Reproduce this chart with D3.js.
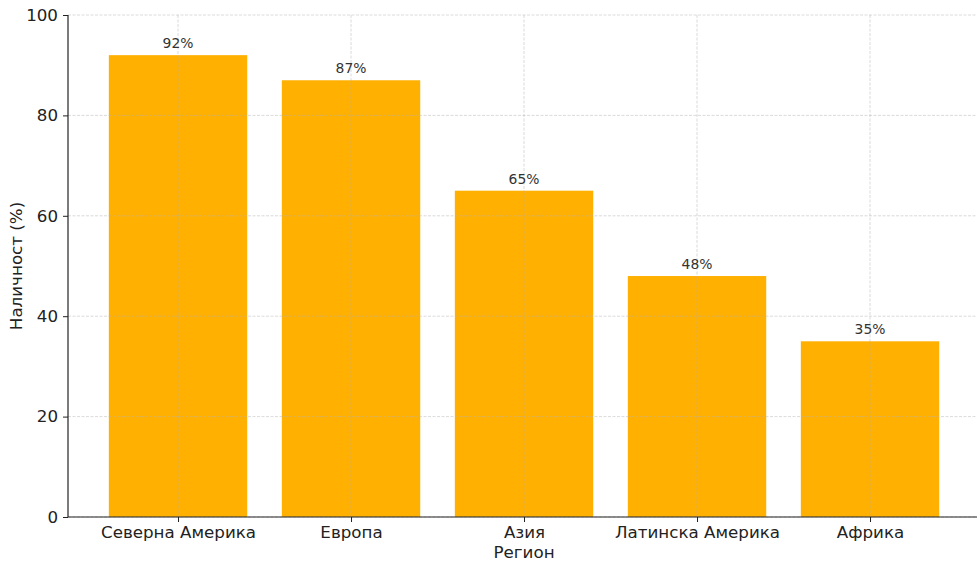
<!DOCTYPE html>
<html><head><meta charset="utf-8">
<script src="https://cdn.jsdelivr.net/npm/d3@7"></script>
<style>
html,body{margin:0;padding:0;background:#fff;}
svg{display:block;font-family:"DejaVu Sans",sans-serif;}
</style></head>
<body>
<svg id="chart" width="977" height="561"></svg>
<script>
const categories = ["Северна Америка", "Европа", "Азия", "Латинска Америка", "Африка"];
const values = [92, 87, 65, 48, 35];
const yTicks = [0, 20, 40, 60, 80, 100];
const xLabel = "Регион";
const yLabel = "Наличност (%)";

(function () {
const svg = d3.select("#chart");
const mLeft = 68, mBottom = 517, mTop = 15;
const step = 173;
const x = d3.scaleLinear().domain([-0.636, 4.636]).range([mLeft, mLeft + 5.272 * step]);
const y = d3.scaleLinear().domain([0, 100]).range([mBottom, mTop]);
const barW = 0.8;

// bars
svg.append("g").selectAll("rect").data(values).join("rect")
  .attr("x", (d, i) => x(i - barW / 2))
  .attr("width", (d, i) => x(i + barW / 2) - x(i - barW / 2))
  .attr("y", d => y(d))
  .attr("height", d => y(0) - y(d))
  .attr("fill", "#FFB000");

// grid (drawn on top)
const grid = svg.append("g").attr("stroke", "#b0b0b0").attr("stroke-opacity", 0.6)
  .attr("stroke-width", 0.8).attr("stroke-dasharray", "3,1.5");
grid.selectAll("line.h").data(yTicks).join("line").attr("class", "h")
  .attr("x1", mLeft).attr("x2", 977).attr("y1", d => y(d)).attr("y2", d => y(d));
grid.selectAll("line.v").data(categories).join("line").attr("class", "v")
  .attr("x1", (d, i) => x(i)).attr("x2", (d, i) => x(i)).attr("y1", mTop).attr("y2", mBottom);

// value labels
svg.append("g").selectAll("text").data(values).join("text")
  .attr("x", (d, i) => x(i)).attr("y", d => y(d) - 7)
  .attr("text-anchor", "middle").attr("font-size", "13.9px").attr("fill", "#333")
  .text(d => d + "%");

// axes
const yAxis = d3.axisLeft(y).tickValues(yTicks).tickSize(5).tickPadding(5);
const gy = svg.append("g").attr("transform", `translate(${mLeft},0)`).call(yAxis);
gy.select(".domain").attr("stroke", "#222").attr("stroke-width", 1.2).attr("d", `M0,${mBottom}V${mTop}`);
gy.selectAll(".tick line").attr("stroke", "#222");
gy.selectAll(".tick text").attr("font-size", "16.7px").attr("fill", "#222").attr("font-family", "DejaVu Sans");

const xAxis = d3.axisBottom(x).tickValues(d3.range(categories.length)).tickFormat(i => categories[i]).tickSize(5).tickPadding(4);
const gx = svg.append("g").attr("transform", `translate(0,${mBottom})`).call(xAxis);
gx.select(".domain").attr("stroke", "#222").attr("stroke-width", 1.2).attr("d", `M${mLeft},0H977`);
gx.selectAll(".tick line").attr("stroke", "#222");
gx.selectAll(".tick text").attr("font-size", "16.7px").attr("fill", "#222").attr("font-family", "DejaVu Sans");

svg.append("text").attr("x", x(2)).attr("y", 558).attr("text-anchor", "middle")
  .attr("font-size", "16.7px").attr("fill", "#222").text(xLabel);
svg.append("text").attr("transform", `translate(22,${(mTop + mBottom) / 2}) rotate(-90)`)
  .attr("text-anchor", "middle").attr("font-size", "16.7px").attr("fill", "#222").text(yLabel);
})();
</script>
</body></html>
